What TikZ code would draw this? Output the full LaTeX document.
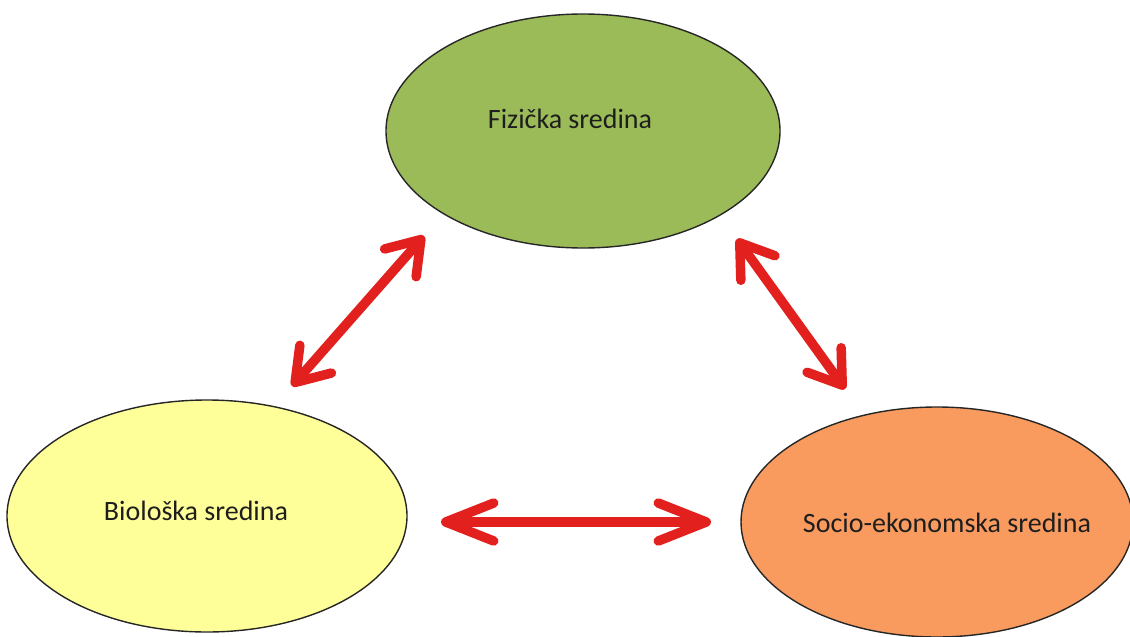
\documentclass[tikz,border=0pt]{standalone}
\usepackage{fontspec}
\setmainfont{Carlito}
\usetikzlibrary{arrows.meta,shapes.geometric}
\definecolor{fizgreen}{HTML}{9BBB59}
\definecolor{bioyellow}{HTML}{FFFF99}
\definecolor{socorange}{HTML}{F99B5F}
\definecolor{arrowred}{HTML}{E2201E}
\definecolor{txt}{HTML}{1E1E1E}
\tikzset{
  blob/.style={ellipse, draw=black!85, line width=1.4pt, inner sep=0pt},
  lbl/.style={anchor=base, inner sep=0pt, text=txt, font=\fontsize{28}{34}\selectfont},
  arr/.style={draw=arrowred, line width=9.5pt, line cap=round, line join=round},
  diaghead/.style={arr, {Straight Barb[length=31pt,width=42pt,round]}-{Straight Barb[length=31pt,width=42pt,round]}},
  longhead/.style={arr, {Straight Barb[length=48pt,width=38pt,round]}-{Straight Barb[length=48pt,width=38pt,round]}}
}
\begin{document}
\begin{tikzpicture}[x=1pt,y=-1pt]
\useasboundingbox (0,0) rectangle (1130,637);
\node[blob, fill=fizgreen, minimum width=394pt, minimum height=234pt] (fiz) at (583,131) {};
\node[blob, fill=bioyellow, minimum width=400pt, minimum height=232pt] (bio) at (207,516) {};
\node[blob, fill=socorange, minimum width=392pt, minimum height=230pt] (soc) at (937,522) {};
\node[lbl] (fizt) at (570,128) {Fizička sredina};
\node[lbl] (biot) at (196,520) {Biološka sredina};
\node[lbl] (soct) at (947,532) {Socio-ekonomska sredina};
\coordinate (l1) at (424,236);
\coordinate (l2) at (292,386);
\coordinate (r1) at (737,239);
\coordinate (r2) at (845,389);
\coordinate (b1) at (441,522);
\coordinate (b2) at (711,522);
\draw[diaghead] (l1) -- (l2);
\draw[diaghead] (r1) -- (r2);
\draw[longhead] (b1) -- (b2);
\end{tikzpicture}
\end{document}
